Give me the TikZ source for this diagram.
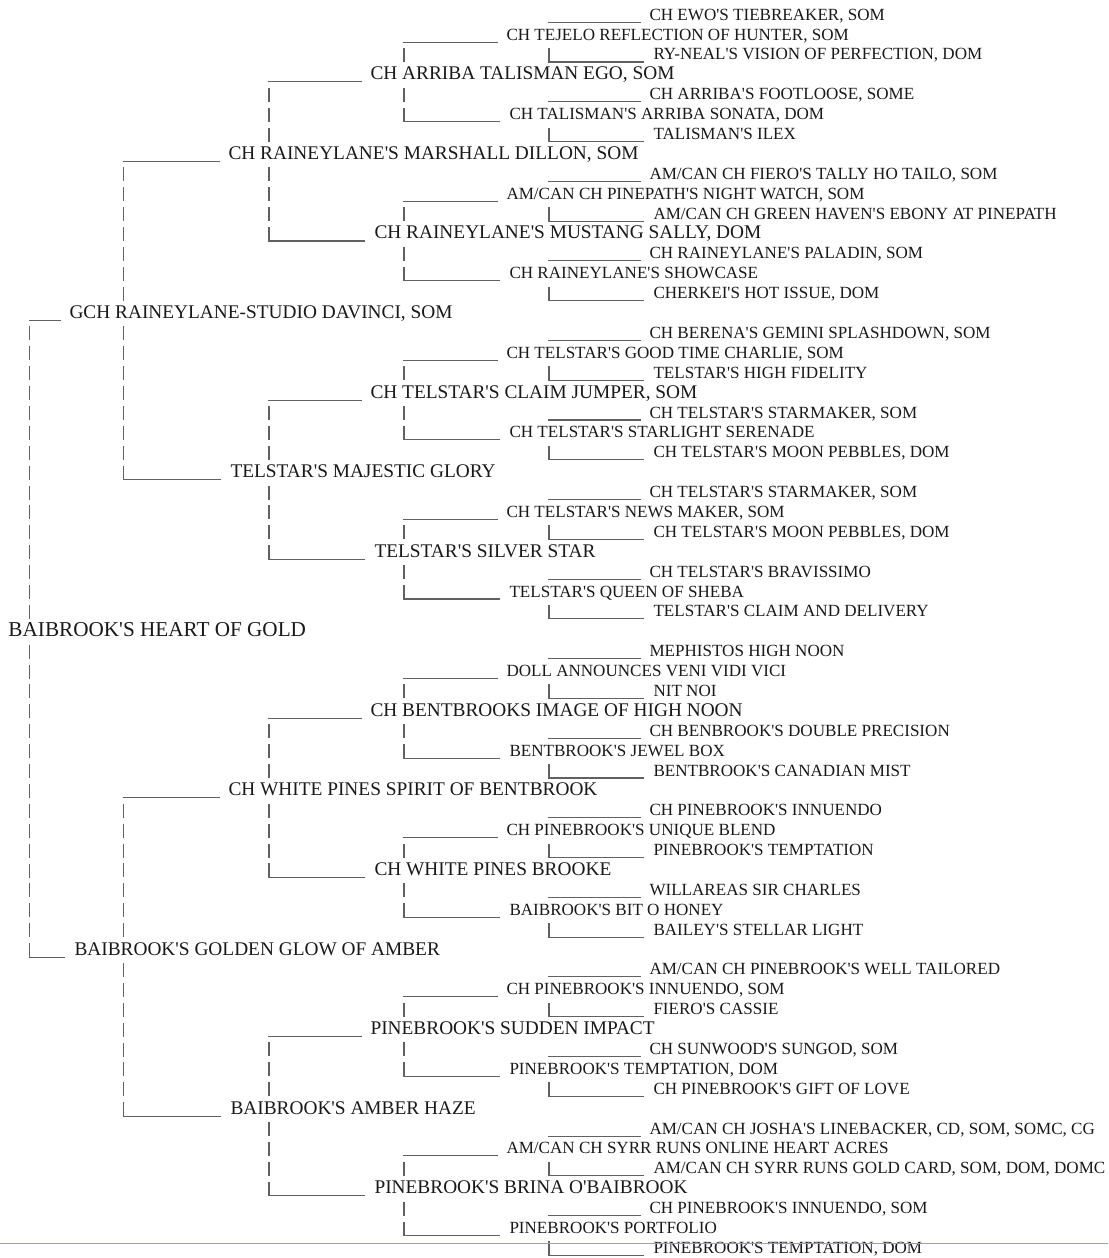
\documentclass[tikz,border=0pt]{standalone}
\usepackage{fontspec}
\setmainfont{Liberation Serif}[Ligatures=TeXOff]
\usetikzlibrary{calc}
\definecolor{scanblue}{RGB}{150,162,186}

\tikzset{every picture/.style={line width=0.75pt}}
\tikzset{
	pup/.style={anchor=base west,inner sep=0pt,text=black!90},
	genA/.style={pup,font=\fontsize{15.9}{18}\selectfont},
	genB/.style={pup,font=\fontsize{14.5}{17}\selectfont},
	genC/.style={pup,font=\fontsize{12.8}{15}\selectfont},
	pedline/.style={draw=black!62,line width=0.8pt},
	pedbar/.style={pedline,dash pattern=on 10.5pt off 4.42pt},
}

% underscores in front of sire and dam, bar from the parent's line down to the dam
\newcommand{\pedlink}[4]{%
	\draw[pedline] ($(#4,0 |- #2.base)+(-1,2)$) -- ($(#2.base west)+(-8,2)$);
	\draw[pedline] ($(#4,0 |- #3.base)+(-1,2)$) -- ($(#3.base west)+(-9,2)$);
	\draw[pedbar] ($(#4,0 |- #1.base)+(0,7.89)$) -- ($(#4,0 |- #3.base)+(0,2)$);
}
% bar from the sire down to the parent's line
\newcommand{\pedlinkup}[3]{%
	\draw[pedbar] ($(#3,0 |- #2.base)+(0,7.89)$) -- ($(#3,0 |- #1.base)+(0,-17.89)$);
}

\begin{document}
\begin{tikzpicture}[x=0.75pt,y=0.75pt,yscale=-1,xscale=1,declare function={pedrow(\k)=20.2+19.89*\k;}]
	\useasboundingbox (0,0) rectangle (1108,1258);
	
	%Dog
	\draw (8,{pedrow(31)}) node [genA] (o) {BAIBROOK'S HEART OF GOLD};
	
	%Parents
	\draw (69,{pedrow(15)}) node [genB] (s) {GCH RAINEYLANE-STUDIO DAVINCI, SOM};
	\draw (74,{pedrow(47)}) node [genB] (d) {BAIBROOK'S GOLDEN GLOW OF AMBER};
	
	%Grandparents
	\draw (228,{pedrow(7)}) node [genB] (ss) {CH RAINEYLANE'S MARSHALL DILLON, SOM};
	\draw (230,{pedrow(23)}) node [genB] (sd) {TELSTAR'S MAJESTIC GLORY};
	\draw (228,{pedrow(39)}) node [genB] (ds) {CH WHITE PINES SPIRIT OF BENTBROOK};
	\draw (230,{pedrow(55)}) node [genB] (dd) {BAIBROOK'S AMBER HAZE};
	
	%Great-grandparents
	\draw (370,{pedrow(3)}) node [genB] (sss) {CH ARRIBA TALISMAN EGO, SOM};
	\draw (374,{pedrow(11)}) node [genB] (ssd) {CH RAINEYLANE'S MUSTANG SALLY, DOM};
	\draw (370,{pedrow(19)}) node [genB] (sds) {CH TELSTAR'S CLAIM JUMPER, SOM};
	\draw (374,{pedrow(27)}) node [genB] (sdd) {TELSTAR'S SILVER STAR};
	\draw (370,{pedrow(35)}) node [genB] (dss) {CH BENTBROOKS IMAGE OF HIGH NOON};
	\draw (374,{pedrow(43)}) node [genB] (dsd) {CH WHITE PINES BROOKE};
	\draw (370,{pedrow(51)}) node [genB] (dds) {PINEBROOK'S SUDDEN IMPACT};
	\draw (374,{pedrow(59)}) node [genB] (ddd) {PINEBROOK'S BRINA O'BAIBROOK};
	
	%4th generation
	\draw (506,{pedrow(1)}) node [genC] (ssss) {CH TEJELO REFLECTION OF HUNTER, SOM};
	\draw (509,{pedrow(5)}) node [genC] (sssd) {CH TALISMAN'S ARRIBA SONATA, DOM};
	\draw (506,{pedrow(9)}) node [genC] (ssds) {AM/CAN CH PINEPATH'S NIGHT WATCH, SOM};
	\draw (509,{pedrow(13)}) node [genC] (ssdd) {CH RAINEYLANE'S SHOWCASE};
	\draw (506,{pedrow(17)}) node [genC] (sdss) {CH TELSTAR'S GOOD TIME CHARLIE, SOM};
	\draw (509,{pedrow(21)}) node [genC] (sdsd) {CH TELSTAR'S STARLIGHT SERENADE};
	\draw (506,{pedrow(25)}) node [genC] (sdds) {CH TELSTAR'S NEWS MAKER, SOM};
	\draw (509,{pedrow(29)}) node [genC] (sddd) {TELSTAR'S QUEEN OF SHEBA};
	\draw (506,{pedrow(33)}) node [genC] (dsss) {DOLL ANNOUNCES VENI VIDI VICI};
	\draw (509,{pedrow(37)}) node [genC] (dssd) {BENTBROOK'S JEWEL BOX};
	\draw (506,{pedrow(41)}) node [genC] (dsds) {CH PINEBROOK'S UNIQUE BLEND};
	\draw (509,{pedrow(45)}) node [genC] (dsdd) {BAIBROOK'S BIT O HONEY};
	\draw (506,{pedrow(49)}) node [genC] (ddss) {CH PINEBROOK'S INNUENDO, SOM};
	\draw (509,{pedrow(53)}) node [genC] (ddsd) {PINEBROOK'S TEMPTATION, DOM};
	\draw (506,{pedrow(57)}) node [genC] (ddds) {AM/CAN CH SYRR RUNS ONLINE HEART ACRES};
	\draw (509,{pedrow(61)}) node [genC] (dddd) {PINEBROOK'S PORTFOLIO};
	
	%5th generation
	\draw (649,{pedrow(0)}) node [genC] (sssss) {CH EWO'S TIEBREAKER, SOM};
	\draw (653,{pedrow(2)}) node [genC] (ssssd) {RY-NEAL'S VISION OF PERFECTION, DOM};
	\draw (649,{pedrow(4)}) node [genC] (sssds) {CH ARRIBA'S FOOTLOOSE, SOME};
	\draw (653,{pedrow(6)}) node [genC] (sssdd) {TALISMAN'S ILEX};
	\draw (649,{pedrow(8)}) node [genC] (ssdss) {AM/CAN CH FIERO'S TALLY HO TAILO, SOM};
	\draw (653,{pedrow(10)}) node [genC] (ssdsd) {AM/CAN CH GREEN HAVEN'S EBONY AT PINEPATH};
	\draw (649,{pedrow(12)}) node [genC] (ssdds) {CH RAINEYLANE'S PALADIN, SOM};
	\draw (653,{pedrow(14)}) node [genC] (ssddd) {CHERKEI'S HOT ISSUE, DOM};
	\draw (649,{pedrow(16)}) node [genC] (sdsss) {CH BERENA'S GEMINI SPLASHDOWN, SOM};
	\draw (653,{pedrow(18)}) node [genC] (sdssd) {TELSTAR'S HIGH FIDELITY};
	\draw (649,{pedrow(20)}) node [genC] (sdsds) {CH TELSTAR'S STARMAKER, SOM};
	\draw (653,{pedrow(22)}) node [genC] (sdsdd) {CH TELSTAR'S MOON PEBBLES, DOM};
	\draw (649,{pedrow(24)}) node [genC] (sddss) {CH TELSTAR'S STARMAKER, SOM};
	\draw (653,{pedrow(26)}) node [genC] (sddsd) {CH TELSTAR'S MOON PEBBLES, DOM};
	\draw (649,{pedrow(28)}) node [genC] (sddds) {CH TELSTAR'S BRAVISSIMO};
	\draw (653,{pedrow(30)}) node [genC] (sdddd) {TELSTAR'S CLAIM AND DELIVERY};
	\draw (649,{pedrow(32)}) node [genC] (dssss) {MEPHISTOS HIGH NOON};
	\draw (653,{pedrow(34)}) node [genC] (dsssd) {NIT NOI};
	\draw (649,{pedrow(36)}) node [genC] (dssds) {CH BENBROOK'S DOUBLE PRECISION};
	\draw (653,{pedrow(38)}) node [genC] (dssdd) {BENTBROOK'S CANADIAN MIST};
	\draw (649,{pedrow(40)}) node [genC] (dsdss) {CH PINEBROOK'S INNUENDO};
	\draw (653,{pedrow(42)}) node [genC] (dsdsd) {PINEBROOK'S TEMPTATION};
	\draw (649,{pedrow(44)}) node [genC] (dsdds) {WILLAREAS SIR CHARLES};
	\draw (653,{pedrow(46)}) node [genC] (dsddd) {BAILEY'S STELLAR LIGHT};
	\draw (649,{pedrow(48)}) node [genC] (ddsss) {AM/CAN CH PINEBROOK'S WELL TAILORED};
	\draw (653,{pedrow(50)}) node [genC] (ddssd) {FIERO'S CASSIE};
	\draw (649,{pedrow(52)}) node [genC] (ddsds) {CH SUNWOOD'S SUNGOD, SOM};
	\draw (653,{pedrow(54)}) node [genC] (ddsdd) {CH PINEBROOK'S GIFT OF LOVE};
	\draw (649,{pedrow(56)}) node [genC] (dddss) {AM/CAN CH JOSHA'S LINEBACKER, CD, SOM, SOMC, CG};
	\draw (653,{pedrow(58)}) node [genC] (dddsd) {AM/CAN CH SYRR RUNS GOLD CARD, SOM, DOM, DOMC};
	\draw (649,{pedrow(60)}) node [genC] (dddds) {CH PINEBROOK'S INNUENDO, SOM};
	\draw (653,{pedrow(62)}) node [genC] (ddddd) {PINEBROOK'S TEMPTATION, DOM};
	
	%Links
	\pedlink{o}{s}{d}{29.5} \pedlinkup{o}{s}{29.5}
	\foreach \p in {s,d} {\pedlink{\p}{\p s}{\p d}{123.5} \pedlinkup{\p}{\p s}{123.5}}
	\foreach \p in {ss,sd,ds,dd} {\pedlink{\p}{\p s}{\p d}{269} \pedlinkup{\p}{\p s}{269}}
	\foreach \p in {sss,ssd,sds,sdd,dss,dsd,dds,ddd} {\pedlink{\p}{\p s}{\p d}{404} \pedlinkup{\p}{\p s}{404}}
	\foreach \p in {ssss,sssd,ssds,ssdd,sdss,sdsd,sdds,sddd,dsss,dssd,dsds,dsdd,ddss,ddsd,ddds,dddd} {\pedlink{\p}{\p s}{\p d}{549}}
	
	%scanner line
	\draw [scanblue,line width=0.6pt] (0,1243) -- (1108,1243);
	
\end{tikzpicture}
\end{document}
